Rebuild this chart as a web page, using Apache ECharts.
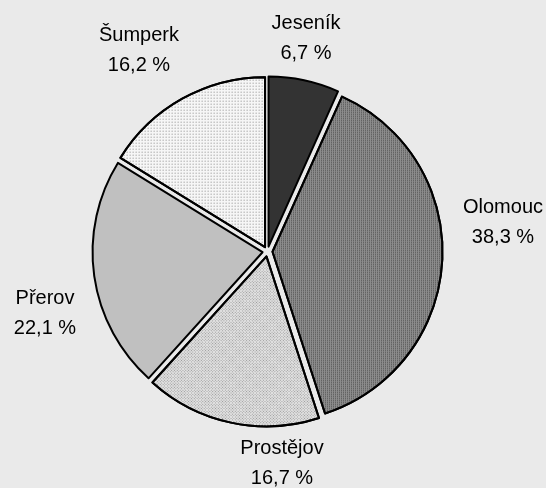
<!DOCTYPE html>
<html>
<head>
<meta charset="utf-8">
<script src="https://cdn.jsdelivr.net/npm/echarts@6/dist/echarts.min.js"></script>
<style>
html,body{margin:0;padding:0;background:#eaeaea;}
#c{width:546px;height:488px;}
</style>
</head>
<body>
<div id="c"></div>
<script>
const categories = ['Jeseník', 'Olomouc', 'Prostějov', 'Přerov', 'Šumperk'];
const shares = [6.7, 38.3, 16.7, 22.1, 16.2];

const sliceColors = ['#333333', '#8c8c8c', '#e2e2e2', '#c0c0c0', '#f6f6f6'];
const sliceDecals = [
  null,
  {symbol: 'rect', symbolSize: 1, color: '#505050', dashArrayX: [1, 1], dashArrayY: [1, 1], rotation: 0},
  {symbol: 'rect', symbolSize: 1, color: '#9a9a9a', dashArrayX: [1, 1], dashArrayY: [1, 1], rotation: 0.785},
  null,
  {symbol: 'rect', symbolSize: 1, color: '#8a8a8a', dashArrayX: [1, 2], dashArrayY: [1, 2], rotation: 0}
];
// label centres (layout only)
const labelCentres = [[306, 38], [503, 222], [282, 463], [45, 313], [139, 50]];

const fmtShare = v => v.toFixed(1).replace('.', ',') + ' %';

const chart = echarts.init(document.getElementById('c'), null, {renderer: 'canvas'});
chart.setOption({
  backgroundColor: '#eaeaea',
  animation: false,
  graphic: categories.map((n, i) => ({
    type: 'text',
    x: labelCentres[i][0],
    y: labelCentres[i][1],
    silent: true,
    style: {
      text: n + '\n' + fmtShare(shares[i]),
      align: 'center',
      verticalAlign: 'middle',
      fontFamily: 'Liberation Sans, Arial, sans-serif',
      fontSize: 20,
      lineHeight: 30,
      fill: '#000'
    }
  })),
  series: [{
    type: 'pie',
    center: [267.5, 251.5],
    radius: [0, 170],
    startAngle: 90,
    clockwise: true,
    selectedMode: 'multiple',
    selectedOffset: 5,
    emphasis: {disabled: true},
    itemStyle: {borderColor: '#000', borderWidth: 2},
    label: {show: false},
    labelLine: {show: false},
    data: categories.map((n, i) => ({
      name: n, value: shares[i], selected: true,
      itemStyle: Object.assign({color: sliceColors[i]}, sliceDecals[i] ? {decal: sliceDecals[i]} : {})
    }))
  }]
});
</script>
</body>
</html>
